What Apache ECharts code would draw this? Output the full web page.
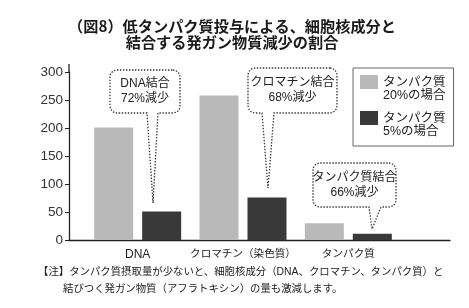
<!DOCTYPE html>
<html>
<head>
<meta charset="utf-8">
<script src="https://cdn.jsdelivr.net/npm/echarts@6/dist/echarts.min.js"></script>
<style>
  html, body { margin: 0; padding: 0; background: #fff; }
  #chart { width: 469px; height: 308px; }
</style>
</head>
<body>
<div id="chart"></div>
<script>
const FONT = "'Liberation Sans', 'Noto Sans CJK JP', sans-serif"

// data
const categories = ['DNA', 'クロマチン（染色質）', 'タンパク質']
const protein20 = [201, 258, 30]
const protein5 = [51, 76, 11]
const seriesNames = ['タンパク質\n20%の場合', 'タンパク質\n5%の場合']
const callouts = [
  { text: 'DNA結合\n72%減少', box: [110, 70, 180, 113], tail: [147, 158, 153, 203] },
  { text: 'クロマチン結合\n68%減少', box: [248, 68, 337, 113], tail: [262, 274, 268, 188] },
  { text: 'タンパク質結合\n66%減少', box: [313, 163, 396, 207], tail: [369, 381, 372, 229] },
]

// rounded box with a pointer on its bottom edge, as polygon points
function calloutPoints(box, tail) {
  const [x0, y0, x1, y1] = box
  const [ta, tb, tx, ty] = tail
  const r = 7
  const pts = []
  const corner = (cx, cy, a0) => {
    for (let k = 0; k <= 4; k++) {
      const a = (a0 + k * 22.5) * Math.PI / 180
      pts.push([cx + r * Math.cos(a), cy + r * Math.sin(a)])
    }
  }
  corner(x1 - r, y0 + r, -90)
  corner(x1 - r, y1 - r, 0)
  pts.push([tb, y1], [tx, ty], [ta, y1])
  corner(x0 + r, y1 - r, 90)
  corner(x0 + r, y0 + r, 180)
  return pts
}

const graphics = []
callouts.forEach(c => {
  graphics.push({
    type: 'polygon',
    shape: { points: calloutPoints(c.box, c.tail) },
    style: { fill: '#fff', stroke: '#333', lineWidth: 1.3, lineDash: [1.4, 1.6] },
    z: 10
  })
  graphics.push({
    type: 'text',
    x: (c.box[0] + c.box[2]) / 2,
    y: (c.box[1] + c.box[3]) / 2,
    style: {
      text: c.text, font: `12px ${FONT}`, fill: '#222', lineHeight: 15,
      align: 'center', verticalAlign: 'middle'
    },
    z: 11
  })
})
// axis line runs a little above 300
graphics.push({
  type: 'line',
  shape: { x1: 69, y1: 64, x2: 69, y2: 72 },
  style: { stroke: '#222', lineWidth: 1.3 }
})
graphics.push({
  type: 'text', x: 38, y: 272,
  style: { text: '【注】タンパク質摂取量が少ないと、細胞核成分（DNA、クロマチン、タンパク質）と',
    font: `10.4px ${FONT}`, fill: '#222', verticalAlign: 'middle' }
})
graphics.push({
  type: 'text', x: 63, y: 289,
  style: { text: '結びつく発ガン物質（アフラトキシン）の量も激減します。',
    font: `10.4px ${FONT}`, fill: '#222', verticalAlign: 'middle' }
})

const chart = echarts.init(document.getElementById('chart'))
const option = {
  backgroundColor: '#fff',
  animation: false,
  title: {
    text: '（図8）低タンパク質投与による、細胞核成分と\n結合する発ガン物質減少の割合',
    left: 232,
    top: 18,
    padding: 0,
    textAlign: 'center',
    textStyle: { fontSize: 15.2, fontWeight: 'bold', lineHeight: 16, color: '#1a1a1a', fontFamily: "'Noto Sans CJK JP', sans-serif" }
  },
  legend: {
    orient: 'vertical',
    left: 353,
    top: 68,
    padding: [7, 8, 7, 7],
    itemGap: 8,
    itemWidth: 18,
    itemHeight: 28,
    borderColor: '#666',
    borderWidth: 1,
    icon: 'path://M0,0L18,0L18,14L0,14Z M0,28L0.01,28',
    textStyle: { fontSize: 12.5, lineHeight: 13, color: '#222', fontFamily: FONT },
    data: seriesNames
  },
  grid: [
    { left: 69, right: 19, top: 72, bottom: 68 },
    { left: 85, right: 68, top: 72, bottom: 68 }
  ],
  xAxis: [
    {
      type: 'value', gridIndex: 0, min: 0, max: 1,
      axisLine: { show: true, lineStyle: { color: '#222', width: 1.3 } },
      axisTick: { show: false }, axisLabel: { show: false }, splitLine: { show: false }
    },
    {
      type: 'category', gridIndex: 1, data: categories,
      axisLine: { show: false }, axisTick: { show: false },
      axisLabel: {
        interval: 0, color: '#222', margin: 9, fontFamily: FONT,
        formatter: v => (v === 'DNA' ? `{l|${v}}` : `{j|${v}}`),
        rich: {
          l: { fontSize: 12, fontFamily: FONT, color: '#222' },
          j: { fontSize: 10.6, fontFamily: FONT, color: '#222' }
        }
      }
    }
  ],
  yAxis: [
    {
      type: 'value', gridIndex: 0, min: 0, max: 300, interval: 50,
      axisLine: { show: true, lineStyle: { color: '#222', width: 1.3 } },
      axisTick: { show: true, length: 4, lineStyle: { color: '#222' } },
      axisLabel: { fontSize: 13.5, color: '#333', margin: 6, fontFamily: FONT },
      splitLine: { show: false }
    },
    { type: 'value', gridIndex: 1, min: 0, max: 300, show: false }
  ],
  series: [
    {
      name: seriesNames[0], type: 'bar', xAxisIndex: 1, yAxisIndex: 1,
      data: protein20, barWidth: 39, barGap: '23%',
      itemStyle: { color: '#b9b9b9' }
    },
    {
      name: seriesNames[1], type: 'bar', xAxisIndex: 1, yAxisIndex: 1,
      data: protein5, barWidth: 39, barGap: '23%',
      itemStyle: { color: '#393939' }
    }
  ],
  graphic: graphics
}
chart.setOption(option)

window.addEventListener('resize', function() {
  chart.resize()
})
</script>
</body>
</html>
